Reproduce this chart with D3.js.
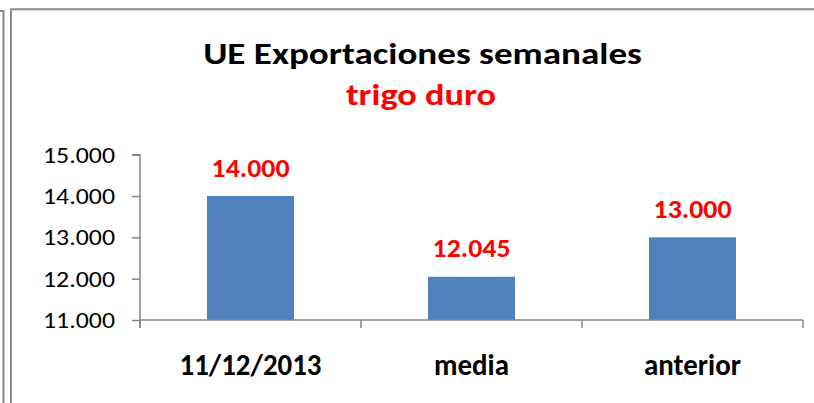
<!DOCTYPE html>
<html>
<head>
<meta charset="utf-8">
<script src="https://cdn.jsdelivr.net/npm/d3@7"></script>
<style>
  html, body { margin: 0; padding: 0; background: #fff; }
  svg { display: block; }
  text { font-family: Carlito, Calibri, Lato, "Open Sans", sans-serif; }
</style>
</head>
<body>
<svg id="chart" width="814" height="403"></svg>
<script>
const categories = ["11/12/2013", "media", "anterior"];
const values = [14000, 12045, 13000];
const yTicks = [11000, 12000, 13000, 14000, 15000];
const title = "UE Exportaciones semanales";
const subtitle = "trigo duro";

const FONT = "Carlito, Calibri, Lato, 'Open Sans', sans-serif";
const svg = d3.select("#chart");
const locale = d3.formatLocale({ decimal: ",", thousands: ".", grouping: [3], currency: ["", "€"] });
const fmt = locale.format(",.0f");

const ctx = document.createElement("canvas").getContext("2d");
function capRatio(weight, sample) {
  ctx.font = `${weight} 100px ${FONT}`;
  const m = ctx.measureText(sample);
  return m.actualBoundingBoxAscent / 100;
}

function fit(sel, w) {
  const n = sel.node();
  const fs = parseFloat(sel.attr("font-size"));
  const cur = n.getComputedTextLength();
  if (cur > 0) sel.attr("font-size", (fs * w / cur).toFixed(2));
}
function place(sel, px, py, cap, sample) {
  const fs = parseFloat(sel.attr("font-size"));
  const r = capRatio(sel.attr("font-weight") || "normal", sample);
  let sy = r > 0 ? cap / (r * fs) : 1;
  if (!isFinite(sy) || sy < 0.7 || sy > 1.4) sy = 1;
  sel.attr("x", 0).attr("y", 0).attr("transform", `translate(${px},${py}) scale(1,${sy.toFixed(3)})`);
}

// Borders
const borderColor = "#8a8a8a";
svg.append("path").attr("d", "M0,11 H3.5 V403").attr("fill", "none").attr("stroke", borderColor).attr("stroke-width", 2);
svg.append("path").attr("d", "M11,403 V9.3 H814").attr("fill", "none").attr("stroke", borderColor).attr("stroke-width", 2);

const x = d3.scaleBand().domain(categories).range([140, 803]).paddingInner(0.606).paddingOuter(0.303);
const y = d3.scaleLinear().domain([11000, 15000]).range([320, 154.7]);

const axisColor = "#868686";

// Bars
svg.append("g").selectAll("rect").data(values).join("rect")
  .attr("x", (d, i) => x(categories[i]))
  .attr("width", x.bandwidth())
  .attr("y", d => y(d))
  .attr("height", d => y(11000) - y(d))
  .attr("fill", "#4F81BD");

// Y axis
const yAxis = svg.append("g").attr("transform", "translate(140,0)")
  .call(d3.axisLeft(y).tickValues(yTicks).tickFormat(fmt).tickSize(8).tickPadding(17));
yAxis.select(".domain").attr("stroke", axisColor).attr("stroke-width", 1.5).attr("d", "M-8,154.7H0V328");
yAxis.selectAll(".tick line").attr("stroke", axisColor).attr("stroke-width", 1.5);
yAxis.selectAll(".tick text").attr("font-size", 20).attr("fill", "#000")
  .attr("font-family", FONT).attr("dy", null);
yAxis.selectAll(".tick text").each(function () {
  const s = d3.select(this);
  fit(s, 72);
  place(s, -25, 7.5, 15, "1");
});

// X axis
const step = x.step();
const boundaries = [0, 1, 2, 3].map(i => 140 + i * step);
const xAxis = svg.append("g");
xAxis.append("line").attr("x1", 140).attr("x2", 803).attr("y1", y(11000)).attr("y2", y(11000))
  .attr("stroke", axisColor).attr("stroke-width", 1.5);
xAxis.selectAll("line.tk").data(boundaries).join("line").attr("class", "tk")
  .attr("x1", d => d).attr("x2", d => d).attr("y1", y(11000)).attr("y2", y(11000) + 8)
  .attr("stroke", axisColor).attr("stroke-width", 1.5);

const cats = xAxis.selectAll("text").data(categories).join("text")
  .attr("text-anchor", "middle")
  .attr("font-size", 22).attr("font-weight", "bold").attr("fill", "#000")
  .text(d => d);
fit(d3.select(cats.nodes()[0]), 142);
cats.attr("font-size", d3.select(cats.nodes()[0]).attr("font-size"));
cats.each(function (d) { place(d3.select(this), x(d) + x.bandwidth() / 2, 375, 20, "1"); });

// Value labels
const vl = svg.append("g").selectAll("text").data(values).join("text")
  .attr("text-anchor", "middle")
  .attr("font-size", 22).attr("font-weight", "bold").attr("fill", "#FF0000")
  .text(d => fmt(d));
fit(d3.select(vl.nodes()[0]), 78);
vl.attr("font-size", d3.select(vl.nodes()[0]).attr("font-size"));
vl.each(function (d, i) { place(d3.select(this), x(categories[i]) + x.bandwidth() / 2, y(d) - 19.5, 17, "1"); });

// Title
const t1 = svg.append("text").attr("text-anchor", "middle")
  .attr("font-size", 27).attr("font-weight", "bold").attr("fill", "#000").text(title);
fit(t1, 439);
place(t1, 422.5, 64, 19, "E");
const t2 = svg.append("text").attr("text-anchor", "middle")
  .attr("font-size", 27).attr("font-weight", "bold").attr("fill", "#FF0000").text(subtitle);
fit(t2, 150);
place(t2, 421, 105, 21, "d");
</script>
</body>
</html>
